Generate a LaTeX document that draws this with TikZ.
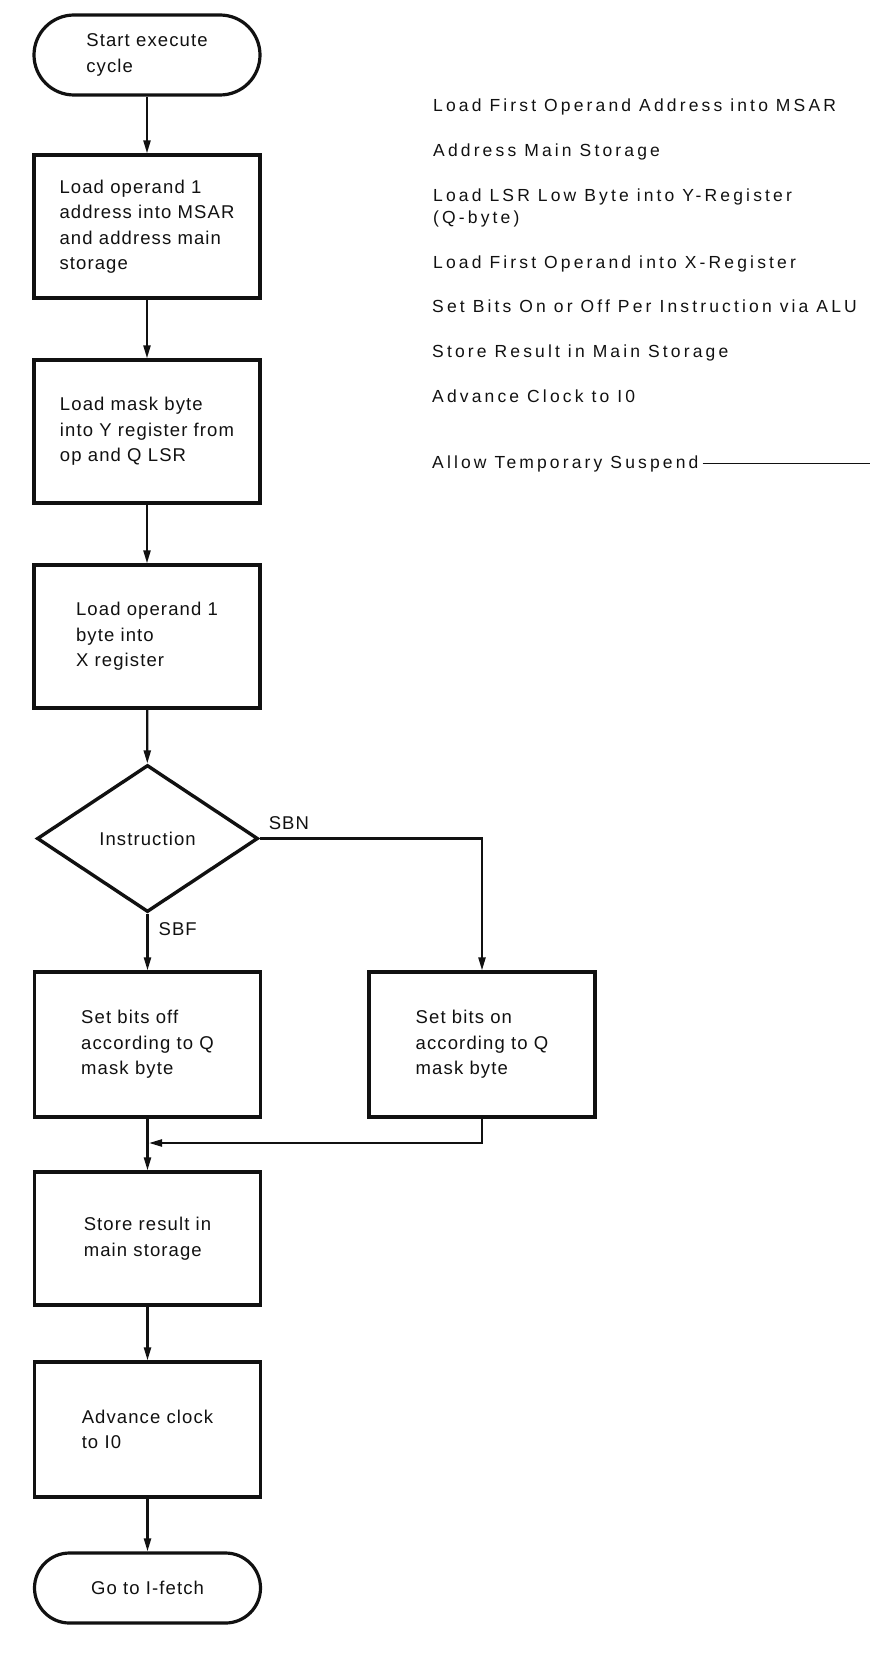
\documentclass[tikz,border=0pt]{standalone}
\usepackage{fontspec}
\setmainfont{Liberation Sans}[LetterSpace=6]
\newfontfamily\fcNoteFamily{Liberation Sans}[LetterSpace=18]
\usepackage{tikz}
\usetikzlibrary{arrows.meta,positioning,shapes.geometric}
\definecolor{fcInk}{HTML}{111111}
\tikzset{
  fc diagram/.style={font=\fontsize{18.5}{25.5}\selectfont, text=fcInk,
    line join=miter},
  fc box/.style={draw=fcInk, fill=white, line width=3.2pt,
    align=left, inner sep=0pt, minimum width=226pt},
  fc terminal/.style={fc box, rounded corners=#1, minimum height=2*#1},
  fc decision/.style={draw=fcInk, fill=white, line width=3.4pt,
    shape=diamond, inner sep=0pt, minimum width=221pt, minimum height=147pt},
  fc arrow/.style={-{Triangle[length=13pt,width=7pt]}, draw=fcInk, line width=2.2pt},
  fc label/.style={inner sep=0pt},
  fc note/.style={font=\fcNoteFamily\fontsize{17.5}{21.5}\selectfont,
    align=left, inner sep=0pt, anchor=base west},
  fc lead/.style={draw=fcInk, line width=1.4pt}
}

\begin{document}
\begin{tikzpicture}[fc diagram,x=1pt,y=-1pt]
\useasboundingbox (0,0) rectangle (870,1664);
% main column
\node[fc terminal=40pt] (start) at (147,55) {Start execute\\cycle};
\node[fc box, minimum height=143pt] (addr) at (147,226.5)
  {Load operand 1\\address into MSAR\\and address main\\storage};
\node[fc box, minimum height=143pt] (mask) at (147,431.5)
  {Load mask byte\\into Y register from\\op and Q LSR};
\node[fc box, minimum height=143pt] (xreg) at (147,636.5)
  {Load operand 1\\byte into\\X register};
\node[fc decision] (instr) at (147.5,838.5) {Instruction};
\node[fc box, minimum height=145pt] (bitsoff) at (147.5,1044.5)
  {Set bits off\\according to Q\\mask byte};
\node[fc box, minimum height=145pt] (bitson) at (482,1044.5)
  {Set bits on\\according to Q\\mask byte};
\node[fc box, minimum height=133pt] (store) at (147.5,1238.5)
  {Store result in\\main storage};
\node[fc box, minimum height=135pt] (clock) at (147.5,1429.5)
  {Advance clock\\to I0};
\node[fc terminal=35pt] (fetch) at (147.5,1588) {Go to I-fetch};
\coordinate (join) at (149,1143);

\draw[fc arrow] (start) -- (addr);
\draw[fc arrow] (addr) -- (mask);
\draw[fc arrow] (mask) -- (xreg);
\draw[fc arrow] (xreg) -- (instr);
\draw[fc arrow] (instr.south) -- node[fc label, anchor=west, pos=0.27, xshift=10pt] (sbf) {SBF} (bitsoff.north);
\draw[fc arrow] (instr.east) -| node[fc label, pos=0, anchor=south west, xshift=8pt, yshift=8pt] (sbn) {SBN} (bitson.north);
\draw[fc arrow] (bitson.south) |- (join);
\draw[fc arrow] (bitsoff) -- (store);
\draw[fc arrow] (store) -- (clock);
\draw[fc arrow] (clock) -- (fetch);

% notes on the right
\node[fc note] (msarnote) at (433,112) {Load First Operand Address into MSAR};
\node[fc note] (addrnote) at (433,157) {Address Main Storage};
\node[fc note] (ynote) at (433,223) {Load LSR Low Byte into Y-Register\\(Q-byte)};
\node[fc note] (xnote) at (433,268) {Load First Operand into X-Register};
\node[fc note] (alunote) at (432,312) {Set Bits On or Off Per Instruction via ALU};
\node[fc note] (storenote) at (432,357) {Store Result in Main Storage};
\node[fc note] (clocknote) at (432,402) {Advance Clock to I0};
\node[fc note] (suspendnote) at (432,468) {Allow Temporary Suspend};
\coordinate (pageedge) at (870,463);
\draw[fc lead, shorten <=4pt] (suspendnote.east) -- (suspendnote.east -| pageedge);
\end{tikzpicture}
\end{document}
